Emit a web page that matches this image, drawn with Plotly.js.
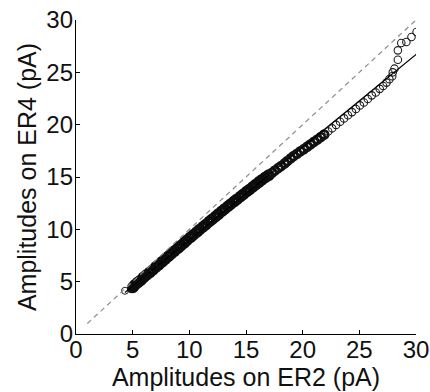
<!DOCTYPE html>
<html>
<head>
<meta charset="utf-8">
<script src="https://cdn.plot.ly/plotly-3.0.1.min.js"></script>
<style>html,body{margin:0;padding:0;background:#fff;}#chart{width:430px;height:392px;}</style>
</head>
<body>
<div id="chart"></div>
<script>
// Amplitudes (pA): ER2 (x) vs ER4 (y), sorted quantiles
const ampER2 = [
  4.32, 4.85, 5.02, 5.2, 5.45, 5.7, 5.95, 6.2, 6.5, 6.75, 7.05, 7.3, 7.6, 7.85, 8.15, 8.4, 8.7, 9.0,
  9.25, 9.55, 9.8, 10.1, 10.35, 10.65, 10.9, 11.2, 11.45, 11.75, 12.0, 12.3, 12.55, 12.85, 13.1,
  13.4, 13.65, 13.95, 14.2, 14.5, 14.75, 15.05, 15.3, 15.6, 15.85, 16.15, 16.4, 16.7, 17.0,
  17.3, 17.55, 17.85, 18.1, 18.4, 18.65, 18.95, 19.2, 19.5, 19.8, 20.1, 20.4, 20.7, 21.0, 21.3, 21.6, 21.9,
  22.25, 22.6, 22.95, 23.3, 23.65, 24.0, 24.35, 24.7, 25.05, 25.4, 25.75, 26.1, 26.45, 26.8, 27.1, 27.4, 27.65, 27.9,
  27.95, 28.1, 28.4, 28.4, 28.7, 29.15, 29.6, 30.05
];
const ampER4 = [
  4.13, 4.27, 4.45, 4.7, 4.92, 5.12, 5.4, 5.62, 5.88, 6.1, 6.4, 6.62, 6.9, 7.14, 7.42, 7.66, 7.93, 8.2,
  8.44, 8.72, 8.97, 9.24, 9.47, 9.73, 9.97, 10.24, 10.45, 10.73, 10.95, 11.22, 11.44, 11.71, 11.93,
  12.19, 12.41, 12.66, 12.87, 13.13, 13.34, 13.6, 13.8, 14.06, 14.27, 14.52, 14.72, 14.96, 15.17,
  15.4, 15.62, 15.86, 16.05, 16.3, 16.52, 16.78, 17.0, 17.22, 17.46, 17.66, 17.9, 18.12, 18.36, 18.58, 18.82, 19.05,
  19.35, 19.65, 19.98, 20.28, 20.6, 20.9, 21.2, 21.5, 21.84, 22.12, 22.45, 22.8, 23.08, 23.42, 23.7, 24.02, 24.35, 24.62,
  25.0, 25.35, 26.2, 27.1, 27.8, 27.9, 28.37, 28.85
];
// Linear fit line (end points)
const fitX = [4.32, 30.15];
const fitY = [3.97, 26.83];
// Identity (unity) line
const unityX = [1, 30];
const unityY = [1, 30];
const tickValues = [0, 5, 10, 15, 20, 25, 30];
const xTitle = 'Amplitudes on ER2 (pA)';
const yTitle = 'Amplitudes on ER4 (pA)';

const font = 'Liberation Sans, Arial, Helvetica, sans-serif';

// Overlapping outlines look heavier where the sample is dense: one trace per density zone
const zones = [
  {test: v => v < 5, size: 7, width: 1.0, color: '#222222'},
  {test: v => v >= 5 && v <= 17.05, size: 8, width: 3.8, color: '#0d0d0d'},
  {test: v => v > 17.05 && v <= 22, size: 8, width: 2.6, color: '#121212'},
  {test: v => v > 22, size: 7.5, width: 1.1, color: '#1e1e1e'}
];

const traces = zones.map(z => {
  const idx = ampER2.map((v, i) => i).filter(i => z.test(ampER2[i]));
  return {
    x: idx.map(i => ampER2[i]), y: idx.map(i => ampER4[i]),
    type: 'scatter', mode: 'markers',
    marker: {symbol: 'circle-open', size: z.size, color: z.color,
             line: {width: z.width, color: z.color}},
    hoverinfo: 'skip', showlegend: false
  };
});

traces.push({
  x: fitX, y: fitY, type: 'scatter', mode: 'lines',
  line: {color: '#000000', width: 1.2}, hoverinfo: 'skip', showlegend: false
});
traces.push({
  x: unityX, y: unityY, type: 'scatter', mode: 'lines',
  line: {color: '#8c8c8c', width: 1.2, dash: '5px,4px'}, hoverinfo: 'skip', showlegend: false
});

const axisCommon = {
  range: [0, 30], tickmode: 'array', tickvals: tickValues, ticktext: tickValues.map(String),
  ticks: 'inside', ticklen: 4, tickwidth: 1, tickcolor: '#000',
  showline: true, linecolor: '#000', linewidth: 1.2, mirror: false,
  showgrid: false, zeroline: false, automargin: false,
  tickfont: {family: font, size: 24, color: '#111'}
};

const layout = {
  width: 430, height: 392,
  margin: {l: 76, r: 14, t: 20, b: 58, pad: 0},
  paper_bgcolor: '#fff', plot_bgcolor: '#fff',
  showlegend: false,
  xaxis: Object.assign({}, axisCommon, {
    ticklabelstandoff: -6,
    title: {text: xTitle, font: {family: font, size: 25, color: '#111'}, standoff: 2}
  }),
  yaxis: Object.assign({}, axisCommon, {
    ticklabelstandoff: -3,
    title: {text: yTitle, font: {family: font, size: 25, color: '#111'}, standoff: 2}
  })
};

Plotly.newPlot('chart', traces, layout, {staticPlot: true, displayModeBar: false});
</script>
</body>
</html>
